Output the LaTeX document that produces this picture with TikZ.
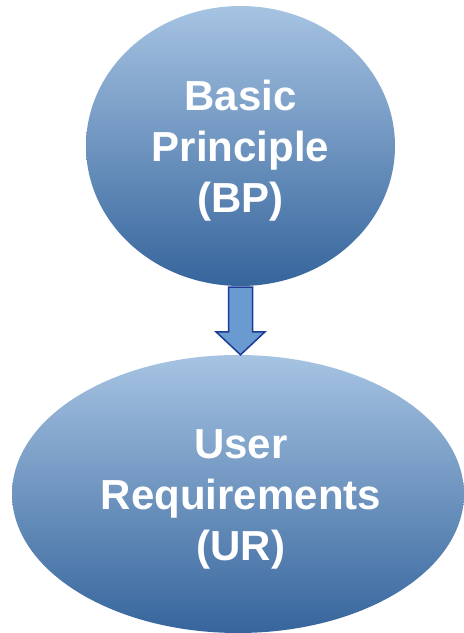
\documentclass[tikz,border=0pt]{standalone}
\usepackage{fontspec}
\setmainfont{Liberation Sans}
\usetikzlibrary{shapes.geometric,calc}
\definecolor{ovalTop}{RGB}{166,195,226}
\definecolor{ovalMid}{RGB}{110,155,205}
\definecolor{ovalBot}{RGB}{54,101,156}
\definecolor{arrowFill}{RGB}{106,155,208}
\definecolor{arrowLine}{RGB}{28,58,150}

\begin{document}
\begin{tikzpicture}[x=1pt,y=1pt,
  oval/.style={ellipse, inner sep=0pt, draw=none,
    top color=ovalTop, middle color=ovalMid, bottom color=ovalBot},
  caption/.style={text=white, font=\fontsize{42}{51}\selectfont\bfseries,
    align=center, inner sep=0pt},
  blockarrow/.style={fill=arrowFill, draw=arrowLine, line width=1.5pt,
    line join=miter}]
\useasboundingbox (0,0) rectangle (464,633);

% the two stages
\node[oval, minimum width=309, minimum height=280] (bp) at (240.5,487) {};
\node[oval, minimum width=452, minimum height=278] (ur) at (238,139) {};

\node[caption] (bpText) at ($(bp.center)+(0,-5)$) {Basic\\Principle\\(BP)};
\node[caption] (urText) at ($(ur.center)+(3,-5.5)$) {User\\Requirements\\(UR)};

% block arrow from the first stage down to the second
\coordinate (tip) at (bp.south |- ur.north);
\draw[blockarrow]
  ($(bp.south)+(-12,-1)$) -- ($(bp.south)+(12,-1)$)
  -- ($(tip)+(12,23)$) -- ($(tip)+(24.5,23)$) -- (tip)
  -- ($(tip)+(-24.5,23)$) -- ($(tip)+(-12,23)$) -- cycle;
\end{tikzpicture}
\end{document}
